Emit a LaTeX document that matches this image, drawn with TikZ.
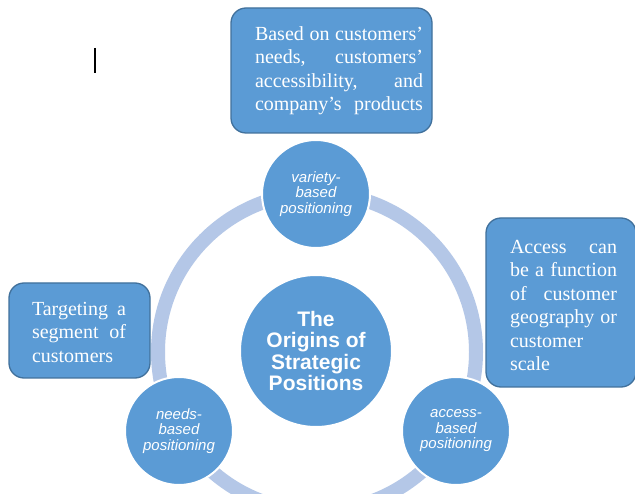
\documentclass[tikz,border=0pt]{standalone}
\usepackage{fontspec}
\setmainfont{Liberation Serif}
\newfontfamily\arialf{Liberation Sans}
\definecolor{cfill}{HTML}{5B9BD5}
\definecolor{cedge}{HTML}{41719C}
\definecolor{ringc}{HTML}{B4C7E7}
\newcommand\jline[2]{\makebox[#1][l]{#2}}
\begin{document}
\begin{tikzpicture}[x=1pt,y=-1pt,
  box/.style={draw=cedge, fill=cfill, line width=1.3pt, rounded corners=15pt, inner sep=0pt},
  boxtxt/.style={text=white, font=\fontsize{20}{23.5}\selectfont, align=left, inner sep=0pt},
  circ/.style={circle, fill=cfill, draw=white, line width=2pt, inner sep=0pt, text=white, align=center},
  smalltxt/.style={font=\arialf\itshape\fontsize{15}{15.5}\selectfont},
  bigtxt/.style={font=\arialf\bfseries\fontsize{21}{21.6}\selectfont},
  ring/.style={draw=ringc, line width=14pt}]
\useasboundingbox (0,0) rectangle (635,494);
\fill[white] (0,0) rectangle (635,494);
% cursor mark
\coordinate (c1) at (95,48);
\coordinate (c2) at (95,73);
\draw[line width=1.2pt] (c1) -- (c2);
% ring
\coordinate (rc) at (317,352);
\draw[ring] (rc) circle[radius=159];
% circles
\node[circ, minimum size=152, bigtxt] (origin) at (316,351) {The\\Origins of\\Strategic\\Positions};
\node[circ, minimum size=108, smalltxt] (variety) at (316,194) {variety-\\based\\positioning};
\node[circ, minimum size=108, smalltxt] (needs) at (179,431) {needs-\\based\\positioning};
\node[circ, minimum size=108, smalltxt] (access) at (456,431) {access-\\based\\positioning};
% boxes
\node[box, minimum width=201, minimum height=125] (topbox) at (331.5,70.5) {};
\node[boxtxt, text width=168pt] (toptxt) at (339,70.5) {\jline{168pt}{Based\hfill on\hfill customers’}\\\jline{168pt}{needs,\hfill customers’}\\\jline{168pt}{accessibility,\hfill and}\\\jline{168pt}{company’s\hfill products}};
\node[box, minimum width=150, minimum height=169] (rightbox) at (561,302.5) {};
\node[boxtxt, text width=107pt] (righttxt) at (563.5,305.5) {\jline{107pt}{Access\hfill can}\\\jline{107pt}{be\hfill a\hfill function}\\\jline{107pt}{of\hfill customer}\\\jline{107pt}{geography\hfill or}\\customer\\scale};
\node[box, minimum width=141, minimum height=95] (leftbox) at (79.5,330.5) {};
\node[boxtxt, text width=94pt] (lefttxt) at (79,332) {\jline{94pt}{Targeting\hfill a}\\\jline{94pt}{segment\hfill of}\\customers};
\end{tikzpicture}
\end{document}
